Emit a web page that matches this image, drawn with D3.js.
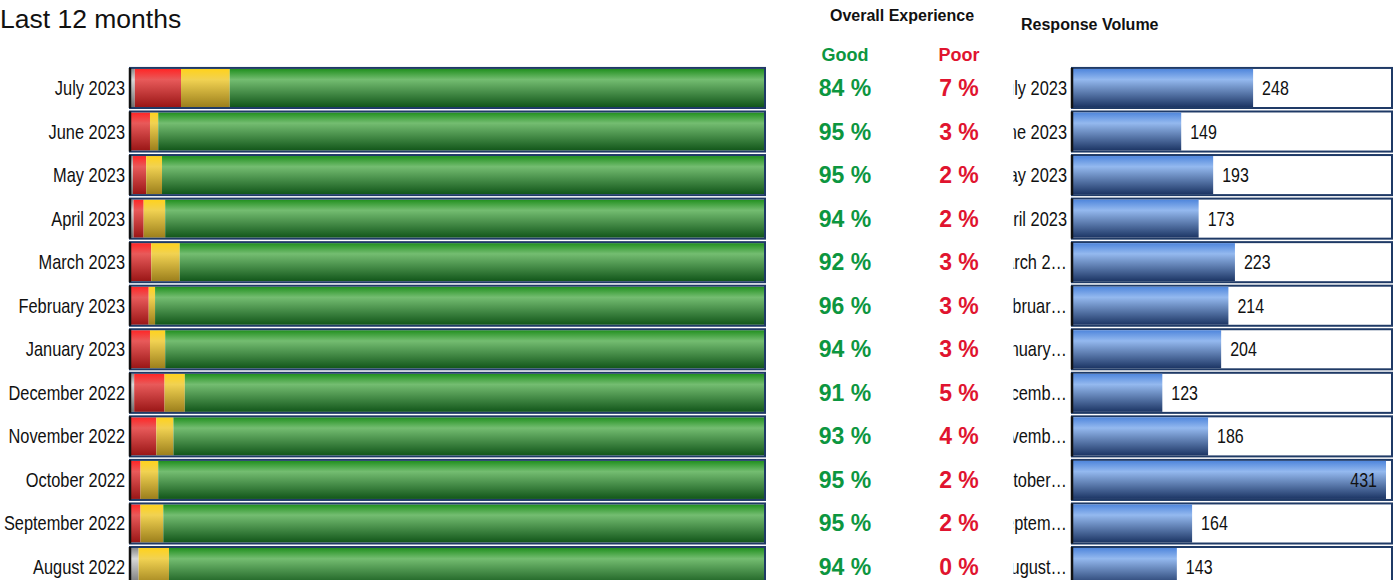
<!DOCTYPE html>
<html>
<head>
<meta charset="utf-8">
<script src="https://cdn.jsdelivr.net/npm/d3@7"></script>
<style>
    body { margin: 0; background: #fff; }
    svg { display: block; }
    .cat { font-family: "Liberation Sans", Arial, sans-serif; font-size: 20px; fill: #111; }
    .head { font-family: "Liberation Sans", Arial, sans-serif; font-weight: bold; fill: #111; }
    .pct { font-family: "Liberation Sans", Arial, sans-serif; font-weight: bold; font-size: 23px; }
</style>
</head>
<body>
<div id="chart"></div>
<script>

// months, newest first
let months = ["July 2023", "June 2023", "May 2023", "April 2023", "March 2023", "February 2023",
    "January 2023", "December 2022", "November 2022", "October 2022", "September 2022", "August 2022"];

// labels as they are cut off next to the volume bars
let volumeLabels = ["July 2023", "June 2023", "May 2023", "April 2023", "March 2\u2026", "Februar\u2026",
    "January\u2026", "Decemb\u2026", "Novemb\u2026", "October\u2026", "Septem\u2026", "August\u2026"];

// share of answers per month (%)
let noAnswer = [0.6, 0, 0.3, 0.4, 0, 0, 0, 0.5, 0, 0, 0, 1.2];
let poor     = [7.3, 3.0, 2.1, 1.6, 3.2, 2.8, 3.0, 4.8, 4.0, 1.5, 1.5, 0];
let neutral  = [7.7, 1.3, 2.5, 3.4, 4.5, 1.0, 2.4, 3.2, 2.7, 2.8, 3.6, 4.8];
let good     = [84.4, 95.7, 95.1, 94.6, 92.3, 96.2, 94.6, 91.5, 93.3, 95.7, 94.9, 94.0];

// displayed percentages
let goodLabels = [84, 95, 95, 94, 92, 96, 94, 91, 93, 95, 95, 94];
let poorLabels = [7, 3, 2, 2, 3, 3, 3, 5, 4, 2, 2, 0];

// number of responses
let volume = [248, 149, 193, 173, 223, 214, 204, 123, 186, 431, 164, 143];

let keys = ["noAnswer", "poor", "neutral", "good"];

let width = 1396, height = 580;

// no narrow font installed, so squeeze the regular one
let narrow = 0.82;
function placeNarrow(sel, fx, fy) {
    sel.attr("x", 0).attr("y", 0)
        .attr("transform", (d, i) => "translate(" + fx(d, i) + "," + fy(d, i) + ") scale(" + narrow + ",1)");
}

let svg = d3.select("#chart").append("svg")
    .attr("width", width)
    .attr("height", height);

// gradients: dark edge on top, light band, dark bottom
let gradients = {
    noAnswer: ["#8a8a8a", "#d8d8d8", "#6e6e6e"],
    poor: ["#ff2626", "#e85a5a", "#9a1616"],
    neutral: ["#ffd21c", "#f1d252", "#9c7f1c"],
    good: ["#21901f", "#74bd71", "#12561a"],
    volume: ["#4f86dc", "#94b9ef", "#1c3564"]
};

let defs = svg.append("defs");
Object.keys(gradients).forEach(k => {
    let g = defs.append("linearGradient")
        .attr("id", "grad-" + k)
        .attr("x1", 0).attr("y1", 0).attr("x2", 0).attr("y2", 1);
    g.append("stop").attr("offset", "0%").attr("stop-color", gradients[k][0]);
    g.append("stop").attr("offset", "28%").attr("stop-color", gradients[k][1]);
    g.append("stop").attr("offset", "100%").attr("stop-color", gradients[k][2]);
});

// rows
let y = d3.scaleBand()
    .domain(months)
    .range([66.2, 588.8])
    .paddingInner(0.08)
    .paddingOuter(0.04);

let rowMid = m => y(m) + y.bandwidth() / 2;

// ---------- stacked experience bars ----------
let rows = months.map((m, i) => ({
    month: m, noAnswer: noAnswer[i], poor: poor[i], neutral: neutral[i], good: good[i]
}));

let stack = d3.stack()
    .keys(keys)
    .offset(d3.stackOffsetExpand);

let series = stack(rows);

let x = d3.scaleLinear()
    .domain([0, 1])
    .range([131, 764]);

let left = svg.append("g").attr("class", "experience");

left.selectAll(".series")
    .data(series)
    .enter().append("g")
    .attr("class", "series")
    .attr("fill", d => "url(#grad-" + d.key + ")")
    .selectAll("rect")
    .data(d => d)
    .enter().append("rect")
    .attr("x", d => x(d[0]))
    .attr("width", d => Math.max(0, x(d[1]) - x(d[0])))
    .attr("y", d => y(d.data.month) + 1)
    .attr("height", y.bandwidth() - 2);

// frame round each bar
left.selectAll(".frame")
    .data(months)
    .enter().append("rect")
    .attr("class", "frame")
    .attr("x", x.range()[0] - 1)
    .attr("y", d => y(d))
    .attr("width", x.range()[1] - x.range()[0] + 2)
    .attr("height", y.bandwidth())
    .attr("fill", "none")
    .attr("stroke", "#1f3a66")
    .attr("stroke-width", 2);

left.selectAll(".edge")
    .data(months)
    .enter().append("line")
    .attr("class", "edge")
    .attr("x1", x.range()[0] - 1)
    .attr("x2", x.range()[0] - 1)
    .attr("y1", d => y(d))
    .attr("y2", d => y(d) + y.bandwidth())
    .attr("stroke", "#111")
    .attr("stroke-width", 2.5);

left.selectAll(".cat")
    .data(months)
    .enter().append("text")
    .attr("class", "cat")
    .attr("text-anchor", "end")
    .text(d => d)
    .call(placeNarrow, () => 125, d => rowMid(d) + 7);

// ---------- headers ----------
svg.append("text")
    .attr("x", 0)
    .attr("y", 28)
    .style("font-family", "'Liberation Sans', Arial, sans-serif")
    .style("font-size", "26.5px")
    .style("fill", "#111")
    .text("Last 12 months");

svg.append("text")
    .attr("class", "head")
    .attr("x", 902)
    .attr("y", 21)
    .attr("text-anchor", "middle")
    .style("font-size", "16px")
    .text("Overall Experience");

svg.append("text")
    .attr("class", "head")
    .attr("x", 1021)
    .attr("y", 30)
    .style("font-size", "16px")
    .text("Response Volume");

let goodColor = "#0c963f", poorColor = "#e0142f";

svg.append("text")
    .attr("class", "head")
    .attr("x", 845)
    .attr("y", 61)
    .attr("text-anchor", "middle")
    .style("font-size", "18px")
    .style("fill", goodColor)
    .text("Good");

svg.append("text")
    .attr("class", "head")
    .attr("x", 959)
    .attr("y", 61)
    .attr("text-anchor", "middle")
    .style("font-size", "18px")
    .style("fill", poorColor)
    .text("Poor");

// ---------- good / poor percentages ----------
svg.selectAll(".good-pct")
    .data(goodLabels)
    .enter().append("text")
    .attr("class", "pct good-pct")
    .attr("x", 845)
    .attr("y", (d, i) => rowMid(months[i]) + 8)
    .attr("text-anchor", "middle")
    .style("fill", goodColor)
    .text(d => d + " %");

svg.selectAll(".poor-pct")
    .data(poorLabels)
    .enter().append("text")
    .attr("class", "pct poor-pct")
    .attr("x", 959)
    .attr("y", (d, i) => rowMid(months[i]) + 8)
    .attr("text-anchor", "middle")
    .style("fill", poorColor)
    .text(d => d + " %");

// ---------- response volume ----------
let xv = d3.scaleLinear()
    .domain([0, d3.max(volume) * 1.016])
    .range([1073, 1391]);

defs.append("clipPath")
    .attr("id", "vol-clip")
    .append("rect")
    .attr("x", 1013.5).attr("y", 0)
    .attr("width", 400).attr("height", height);

let right = svg.append("g").attr("class", "volume");

right.selectAll(".vol-frame")
    .data(months)
    .enter().append("rect")
    .attr("class", "vol-frame")
    .attr("x", xv.range()[0] - 1)
    .attr("y", d => y(d))
    .attr("width", xv.range()[1] - xv.range()[0] + 2)
    .attr("height", y.bandwidth())
    .attr("fill", "#fff")
    .attr("stroke", "#1f3a66")
    .attr("stroke-width", 2);

right.selectAll(".vol-bar")
    .data(volume)
    .enter().append("rect")
    .attr("class", "vol-bar")
    .attr("x", xv(0))
    .attr("y", (d, i) => y(months[i]) + 1)
    .attr("width", d => xv(d) - xv(0))
    .attr("height", y.bandwidth() - 2)
    .attr("fill", "url(#grad-volume)");

right.selectAll(".vol-edge")
    .data(months)
    .enter().append("line")
    .attr("class", "vol-edge")
    .attr("x1", xv.range()[0] - 1)
    .attr("x2", xv.range()[0] - 1)
    .attr("y1", d => y(d))
    .attr("y2", d => y(d) + y.bandwidth())
    .attr("stroke", "#111")
    .attr("stroke-width", 2.5);

right.selectAll(".vol-val")
    .data(volume)
    .enter().append("text")
    .attr("class", "cat vol-val")
    .style("font-size", "19.5px")
    .text(d => d)
    .each(function (d, i) {
        // put the number inside the bar when it would not fit after it
        let w = this.getComputedTextLength() * narrow;
        let inside = xv(d) + 9 + w > xv.range()[1];
        d3.select(this)
            .attr("text-anchor", inside ? "end" : "start")
            .attr("transform", "translate(" + (inside ? xv(d) - 9 : xv(d) + 9) + "," +
                (rowMid(months[i]) + 7) + ") scale(" + narrow + ",1)");
    });

right.append("g")
    .attr("clip-path", "url(#vol-clip)")
    .selectAll(".vol-cat")
    .data(volumeLabels)
    .enter().append("text")
    .attr("class", "cat vol-cat")
    .attr("text-anchor", "end")
    .text(d => d)
    .call(placeNarrow, () => 1067, (d, i) => rowMid(months[i]) + 7);

</script>
</body>
</html>
